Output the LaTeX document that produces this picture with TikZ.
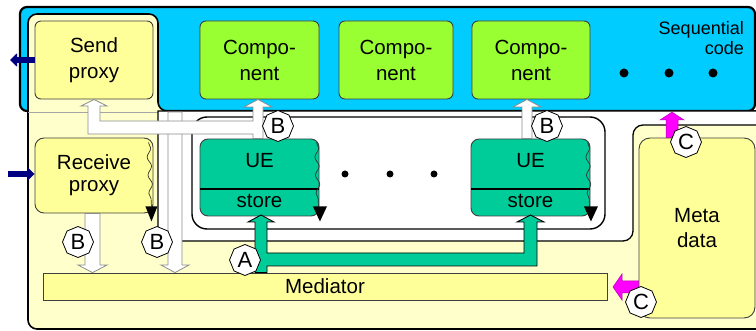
\documentclass[tikz,border=0pt]{standalone}
\usepackage{fontspec}
\setmainfont{Liberation Sans}
\usetikzlibrary{shapes.geometric,calc,arrows.meta,decorations.pathmorphing}
\definecolor{seqblue}{HTML}{00CCFF}
\definecolor{compgreen}{HTML}{99FF33}
\definecolor{proxyyellow}{HTML}{FFFF99}
\definecolor{paleyellow}{HTML}{FFFFCC}
\definecolor{uegreen}{HTML}{00CC99}
\definecolor{metamag}{HTML}{FF00FF}
\definecolor{navyarrow}{HTML}{000080}
\begin{document}
\begin{tikzpicture}[x=1pt,y=-1pt,
  lbl/.style={font=\fontsize{20.5}{26}\selectfont, align=center, inner sep=0pt},
  chbox/.style={lbl, draw=black!75, line width=0.9, rectangle, rounded corners=6pt},
  rbox/.style={lbl, draw=black!75, line width=0.9, rectangle, rounded corners=9pt},
  compbox/.style={chbox, fill=compgreen, minimum height=78},
  uebox/.style={chbox, fill=uegreen, minimum width=119, minimum height=77, rounded corners=8pt},
  octo/.style={regular polygon, regular polygon sides=8, shape border rotate=22.5, draw=black, line width=0.8, fill=white, minimum size=31, inner sep=0pt, font=\fontsize{22}{22}\selectfont},
  whitearrow/.style={fill=white, draw=black!45, line width=0.8},
  tealarrow/.style={fill=uegreen, draw=black, line width=0.9},
  magarrow/.style={fill=metamag, draw=metamag!70!black, line width=0.5},
  navyarr/.style={draw=navyarrow, line width=5.5, -{Triangle[length=7,width=13]}},
  wave/.style={draw=black!80, line width=0.7, decorate, decoration={snake, amplitude=2pt, segment length=18pt}},
  blackdot/.style={circle, fill=black, inner sep=0pt, minimum size=#1},
  blackdot/.default=9
]
\useasboundingbox (0,0) rectangle (756,331);
\clip (0,0) rectangle (756,331);

% sequential code (blue) box
\node[rectangle, rounded corners=7pt, draw=black, line width=2.2, fill=seqblue,
      minimum width=735, minimum height=104, inner sep=0pt] (seq) at (387.5,59) {};

% outer pale yellow region
\draw[fill=paleyellow, line width=1.6, rounded corners=9pt]
  (765,111) -- (158,111) -- (158,14) -- (28,14) -- (28,329) -- (765,329);
\draw[black!35, line width=0.8] (28,112.5) -- (167,112.5);

% white region
\draw[fill=white, line width=1.3, rounded corners=10pt]
  (765,125) -- (633,125) -- (633,241) -- (158,241) [sharp corners] -- (158,111) -- (765,111);

% inner group box
\draw[fill=white, line width=1.4, rounded corners=15pt] (192,117) rectangle (605,229);

% boxes
\node[chbox, fill=proxyyellow, minimum width=118, minimum height=78] (send) at (94,60) {Send\\proxy};
\node[compbox, minimum width=119] (comp1) at (259.5,60) {Compo-\\nent};
\node[compbox, minimum width=114] (comp2) at (396,60) {Compo-\\nent};
\node[compbox, minimum width=118] (comp3) at (531,60) {Compo-\\nent};
\node[rbox, fill=proxyyellow, minimum width=118, minimum height=75, font=\fontsize{20.5}{22}\selectfont] (recv) at (94,175.5) {Receive\\proxy};
\node[rbox, fill=proxyyellow, minimum width=116, minimum height=180, rounded corners=11pt, font=\fontsize{20.5}{25}\selectfont] (meta) at (697,228) {Meta\\data};
\node[lbl, draw=black!75, line width=0.8, fill=proxyyellow, minimum width=564, minimum height=27] (med) at (325,286.5) {Mediator};

\node[uebox] (ue1) at (259.5,177.5) {};
\node[uebox] (ue2) at (530.5,177.5) {};
\foreach \u/\x in {ue1/259.5, ue2/530.5}{
  \draw[line width=1.2] (\u.west |- 0,189) -- (\u.east |- 0,189);
  \node[lbl, anchor=base] (\u a) at (\x,168) {UE};
  \node[lbl, anchor=base] (\u b) at (\x,208) {store};
  \draw[wave] ($(\u.east |- \u.north)+(-3,4)$) -- ($(\u.east |- \u.south)+(-1,-10)$);
  \fill ($(\u.east |- \u.south)+(-6.5,-10)$) -- ++(14,0) -- ++(-7,15) -- cycle;
}
\draw[wave] ($(recv.east |- recv.north)+(-5,5)$) -- ($(recv.east |- recv.south)+(-2,-7)$);
\fill ($(recv.east |- recv.south)+(-8,-7)$) -- ++(12,0) -- ++(-6,15) -- cycle;

% dots
\node[blackdot] (d1) at (624,73) {};
\node[blackdot] (d2) at (669,73) {};
\node[blackdot] (d3) at (713,73) {};
\node[blackdot=7] (m1) at (345,174) {};
\node[blackdot=7] (m2) at (390,174) {};
\node[blackdot=7] (m3) at (434,174) {};

\node[anchor=north east, align=right, inner sep=0pt, font=\fontsize{18}{20}\selectfont] (seqlbl) at (744,21) {Sequential\\code};

% white arrows to mediator
\draw[whitearrow] (168,0 |- seq.south) -- (168,265) -- (161,265) -- (175,0 |- med.north) -- (189,265) -- (182,265) -- (182,0 |- seq.south) -- cycle;
\draw[whitearrow] (85,0 |- recv.south) -- (85,265) -- (78,265) -- (92.5,0 |- med.north) -- (107,265) -- (100,265) -- (100,0 |- recv.south) -- cycle;

% white B arrow from UE1 to component and send proxy
\draw[whitearrow] (263,0 |- ue1.north) -- (263,107) -- (272,107) -- (258,0 |- comp1.south) -- (244,107) -- (253,107)
  -- (253,121) -- (100,121) -- (100,106) -- (107,106) -- (94,0 |- send.south) -- (81,106) -- (88,106)
  -- (88,134) -- (253,134) -- (253,0 |- ue1.north) -- cycle;
% white B arrow from UE2 to component
\draw[whitearrow] (522,0 |- ue2.north) -- (522,107) -- (513,107) -- (527,0 |- comp3.south) -- (541,107) -- (532,107) -- (532,0 |- ue2.north) -- cycle;

% teal A arrow
\draw[tealarrow] (255,0 |- med.north) -- (255,222) -- (248,222) -- (261,215) -- (274,222) -- (267,222) -- (267,253)
  -- (524,253) -- (524,222) -- (517,222) -- (530.5,215) -- (544,222) -- (537,222) -- (537,266) -- (267,266) -- (267,0 |- med.north) -- cycle;

% magenta C arrows
\draw[magarrow] (666,0 |- meta.north) -- (666,120) -- (660,120) -- (672,0 |- seq.south) -- (684,120) -- (678,120) -- (678,0 |- meta.north) -- cycle;
\draw[magarrow] (meta.west |- 0,281) -- (622,281) -- (622,274) -- (613,287) -- (622,300) -- (622,293) -- (meta.west |- 0,293) -- cycle;

% navy arrows
\coordinate (sendout) at (10,60);
\coordinate (recvin) at (8,174);
\draw[navyarr] (send.west) -- (sendout);
\draw[navyarr] (recvin) -- (recv.west |- recvin);

% labels
\node[octo] (b1) at (278,126) {B};
\node[octo] (b2) at (547,126) {B};
\node[octo] (b3) at (78,242) {B};
\node[octo] (b4) at (157,242) {B};
\node[octo] (a1) at (245,260) {A};
\node[octo] (c1) at (686,142) {C};
\node[octo] (c2) at (641,302) {C};
\end{tikzpicture}
\end{document}
